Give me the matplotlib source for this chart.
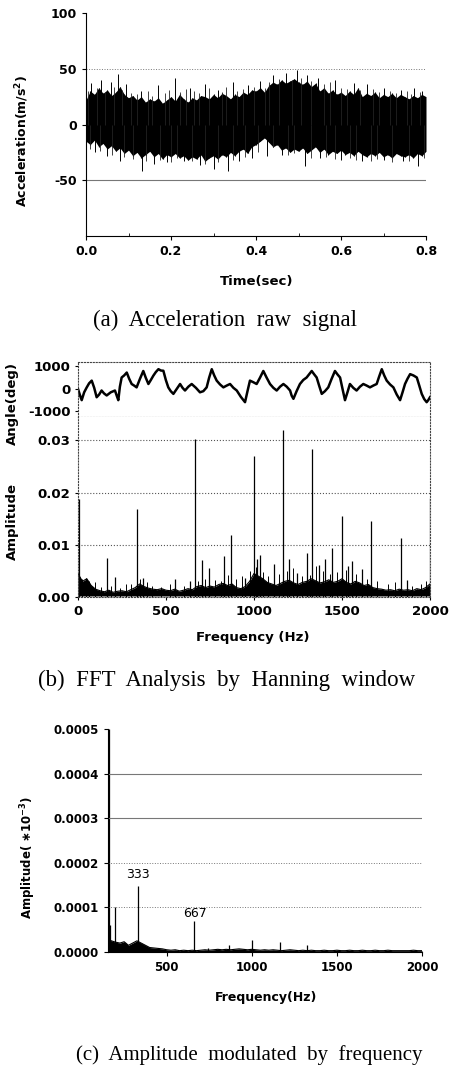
import matplotlib
matplotlib.use('Agg')
import matplotlib.pyplot as plt

# ---- (a) raw acceleration signal, envelope read every 0.01 s ----
time_a = [i * 0.01 for i in range(81)]
acc_upper = [22, 30, 27, 33, 28, 31, 26, 29, 34, 27, 24,
             26, 22, 25, 20, 23, 21, 24, 19, 22, 25,
             21, 27, 23, 20, 24, 22, 26, 25, 23, 27,
             24, 28, 26, 23, 27, 25, 29, 27, 31, 30,
             33, 29, 35, 38, 36, 40, 37, 39, 41, 38,
             36, 39, 34, 37, 30, 33, 28, 31, 27, 29,
             26, 30, 27, 33, 25, 28, 26, 29, 24, 27,
             25, 28, 24, 27, 25, 23, 26, 24, 27, 25]
acc_lower = [-15, -18, -14, -20, -17, -22, -19, -24, -21, -26, -23,
             -28, -25, -30, -27, -24, -29, -26, -31, -27, -29,
             -26, -30, -28, -32, -29, -31, -27, -33, -30, -28,
             -31, -27, -29, -25, -28, -24, -22, -26, -20, -18,
             -15, -12, -16, -20, -18, -23, -21, -25, -22, -24,
             -21, -26, -23, -20, -25, -22, -27, -24, -26, -23,
             -27, -25, -28, -24, -27, -29, -26, -28, -25, -29,
             -27, -30, -26, -28, -29, -27, -30, -26, -28, -24]
spike_up_t = [0.012, 0.035, 0.058, 0.076, 0.095, 0.13, 0.17, 0.209, 0.245, 0.28, 0.31, 0.345,
              0.38, 0.41, 0.44, 0.47, 0.496, 0.52, 0.545, 0.586, 0.63, 0.66, 0.70, 0.74, 0.772, 0.79]
spike_up_v = [37, 40, 38, 45, 36, 30, 35, 42, 33, 36, 31, 38,
              35, 39, 44, 46, 49, 44, 42, 40, 37, 36, 33, 31, 33, 30]
spike_dn_t = [0.02, 0.05, 0.08, 0.131, 0.16, 0.19, 0.23, 0.268, 0.30, 0.335, 0.36,
              0.39, 0.425, 0.46, 0.516, 0.55, 0.60, 0.65, 0.70, 0.745, 0.78]
spike_dn_v = [-25, -28, -33, -42, -35, -34, -33, -36, -40, -42, -33,
              -30, -28, -27, -37, -30, -32, -33, -32, -33, -37]
minor_up_t = [0.005, 0.025, 0.045, 0.066, 0.085, 0.105, 0.12, 0.145, 0.155, 0.185,
              0.195, 0.22, 0.235, 0.255, 0.265, 0.29, 0.32, 0.33, 0.355, 0.37,
              0.395, 0.42, 0.43, 0.455, 0.485, 0.505, 0.53, 0.56, 0.575, 0.6,
              0.615, 0.645, 0.675, 0.69, 0.715, 0.73, 0.755, 0.765, 0.785]
minor_up_v = [30, 33, 29, 34, 31, 28, 27, 30, 26, 28,
              31, 29, 32, 30, 28, 33, 29, 34, 30, 32,
              34, 33, 38, 41, 40, 42, 39, 36, 38, 33,
              32, 31, 32, 29, 30, 28, 30, 27, 29]
minor_dn_t = [0.01, 0.032, 0.062, 0.09, 0.11, 0.14, 0.175, 0.2, 0.215, 0.25,
              0.28, 0.31, 0.345, 0.375, 0.405, 0.44, 0.475, 0.49, 0.53, 0.565,
              0.585, 0.62, 0.635, 0.67, 0.685, 0.72, 0.76, 0.795]
minor_dn_v = [-22, -24, -27, -29, -31, -33, -32, -34, -30, -33,
              -35, -34, -32, -29, -25, -20, -27, -26, -30, -29,
              -31, -30, -32, -33, -31, -34, -33, -30]

# ---- (b) phase angle trace ----
ang_f = [0, 21, 49, 78, 106, 134, 163, 210, 229, 248, 277, 305, 333, 371, 400, 428, 457, 485,
         513, 542, 580, 608, 646, 693, 731, 760, 788, 826, 864, 902, 949, 977, 1015, 1053,
         1091, 1129, 1167, 1205, 1224, 1261, 1299, 1328, 1356, 1385, 1422, 1460, 1489, 1517,
         1545, 1583, 1621, 1659, 1697, 1726, 1754, 1792, 1830, 1858, 1887, 1925, 1953, 1981, 2000]
ang_v = [0, -500, 60, 370, -370, -70, -290, -70, -500, 510, 730, 220, 70, 800, 220, 590, 880, 810,
         70, -220, 220, -70, 220, -150, 70, 880, 370, 70, 220, -70, -590, 370, 220, 800,
         220, -70, 220, -70, -440, 220, 510, 800, 510, -220, 70, 800, 510, -500,
         220, -70, 220, 70, 220, 880, 370, 70, -500, 220, 660, 510, -220, -590, -370]
ang_mid_f = [10, 35, 63, 92, 120, 148, 186, 220, 238, 262,
             291, 319, 352, 385, 414, 442, 471, 499, 527, 561,
             594, 627, 670, 712, 745, 774, 807, 845, 883, 925,
             963, 996, 1034, 1072, 1110, 1148, 1186, 1214, 1242, 1280,
             1313, 1342, 1370, 1403, 1441, 1474, 1503, 1531, 1564, 1602,
             1640, 1678, 1711, 1740, 1773, 1811, 1844, 1872, 1906, 1939,
             1967, 1990]
ang_mid_v = [-250, -150, 250, 50, -250, -200, -150, -300, 100, 600,
             450, 150, 450, 500, 400, 750, 820, 400, -100, 0,
             50, 100, 50, -100, 500, 600, 200, 150, 50, -350,
             -100, 300, 500, 500, 50, 100, 100, -300, -100, 400,
             650, 650, 150, -100, 450, 650, 0, -150, 50, 100,
             150, 150, 550, 600, 200, -250, -150, 450, 600, 150,
             -450, -500]

# ---- (b) amplitude spectrum ----
noise_f = [i * 25 for i in range(81)]
noise_b = [0.0045, 0.0030, 0.0035, 0.0022, 0.0015, 0.0012, 0.0010, 0.0013, 0.0009, 0.0011,
           0.0012, 0.0010, 0.0014, 0.0018, 0.0025, 0.0020, 0.0017, 0.0015, 0.0014, 0.0016,
           0.0013, 0.0012, 0.0015, 0.0011, 0.0013, 0.0016, 0.0014, 0.0020, 0.0022, 0.0018,
           0.0021, 0.0019, 0.0024, 0.0026, 0.0022, 0.0025, 0.0018, 0.0016, 0.0020, 0.0030,
           0.0045, 0.0040, 0.0035, 0.0028, 0.0025, 0.0022, 0.0026, 0.0030, 0.0032, 0.0027,
           0.0024, 0.0028, 0.0030, 0.0035, 0.0031, 0.0027, 0.0029, 0.0033, 0.0028, 0.0030,
           0.0035, 0.0028, 0.0025, 0.0030, 0.0027, 0.0022, 0.0024, 0.0018, 0.0016, 0.0015,
           0.0013, 0.0014, 0.0012, 0.0015, 0.0013, 0.0014, 0.0012, 0.0016, 0.0014, 0.0018,
           0.0025]
peak_f = [6, 167, 208, 337, 371, 551, 636, 665, 703, 746, 831, 869, 949, 1000, 1015, 1034,
          1114, 1167, 1201, 1242, 1299, 1332, 1371, 1404, 1445, 1502, 1536, 1559, 1616,
          1666, 1836, 1871, 2000]
peak_a = [0.0187, 0.0075, 0.0038, 0.0168, 0.0037, 0.0035, 0.0030, 0.0303, 0.0070, 0.0056,
          0.0078, 0.0118, 0.0037, 0.0270, 0.0072, 0.0081, 0.0063, 0.0320, 0.0072, 0.0046,
          0.0085, 0.0283, 0.0062, 0.0073, 0.0094, 0.0155, 0.0059, 0.0069, 0.0053, 0.0146,
          0.0113, 0.0033, 0.0190]
small_f = [20, 45, 60, 95, 130, 190, 240, 270, 300, 355,
           390, 420, 470, 520, 600, 680, 720, 780, 810, 850,
           900, 930, 980, 1010, 1050, 1080, 1140, 1190, 1220, 1270,
           1320, 1350, 1390, 1430, 1470, 1520, 1580, 1640, 1700, 1760,
           1800, 1900, 1950, 1980]
small_a = [0.0035, 0.0037, 0.0030, 0.0028, 0.0020, 0.0022, 0.0018, 0.0025, 0.0024, 0.0035,
           0.0028, 0.0022, 0.0020, 0.0024, 0.0022, 0.0030, 0.0035, 0.0033, 0.0030, 0.0042,
           0.0035, 0.0040, 0.0050, 0.0058, 0.0048, 0.0040, 0.0045, 0.0050, 0.0055, 0.0040,
           0.0042, 0.0060, 0.0050, 0.0045, 0.0048, 0.0052, 0.0045, 0.0035, 0.0030, 0.0025,
           0.0028, 0.0022, 0.0025, 0.0030]

# ---- (c) amplitude modulated by frequency ----
noise_cf = [150 + i * 25 for i in range(75)]
noise_c = [3.0e-5, 2.5e-5, 2.2e-5, 2.0e-5, 2.3e-5, 1.5e-5, 2.0e-5, 2.5e-5, 2.0e-5, 1.5e-5,
           1.0e-5, 0.9e-5, 0.8e-5, 0.7e-5, 0.5e-5, 0.4e-5, 0.5e-5, 0.3e-5, 0.4e-5, 0.3e-5,
           0.4e-5, 0.3e-5, 0.4e-5, 0.5e-5, 0.4e-5, 0.5e-5, 0.6e-5, 0.5e-5, 0.6e-5, 0.5e-5,
           0.6e-5, 0.7e-5, 0.6e-5, 0.5e-5, 0.6e-5, 0.5e-5, 0.4e-5, 0.5e-5, 0.4e-5, 0.5e-5,
           0.4e-5, 0.3e-5, 0.4e-5, 0.5e-5, 0.4e-5, 0.3e-5, 0.4e-5, 0.3e-5, 0.4e-5, 0.3e-5,
           0.3e-5, 0.4e-5, 0.3e-5, 0.3e-5, 0.4e-5, 0.3e-5, 0.3e-5, 0.4e-5, 0.3e-5, 0.3e-5,
           0.4e-5, 0.3e-5, 0.3e-5, 0.4e-5, 0.3e-5, 0.3e-5, 0.4e-5, 0.3e-5, 0.3e-5, 0.3e-5,
           0.3e-5, 0.3e-5, 0.4e-5, 0.3e-5, 0.3e-5]
peak_cf = [158, 165, 196, 333, 663, 745, 865, 1000, 1163, 1325]
peak_ca = [5.0e-4, 6.0e-5, 1.0e-4, 1.49e-4, 6.9e-5, 0.9e-5, 1.5e-5, 2.8e-5, 2.2e-5, 1.6e-5]
label_c = ['333', '667']
label_cf = [333, 667]
label_cy = [1.73e-4, 0.87e-4]

plt.rcParams['font.family'] = ['DejaVu Sans']
plt.rcParams['font.weight'] = 'bold'
plt.rcParams['axes.labelweight'] = 'bold'
plt.rcParams['axes.unicode_minus'] = False
W, H = 449, 1069
fig = plt.figure(figsize=(W / 100, H / 100), dpi=100)


def box(l, t, r, b):
    return [l / W, 1 - b / H, (r - l) / W, (b - t) / H]


def caption(x, y, s, size):
    fig.text(x / W, 1 - y / H, s, family=['Liberation Serif'], fontsize=size,
             fontweight='normal', ha='center', va='center')


# (a)
ax = fig.add_axes(box(86, 13, 426, 236))
ax.fill_between(time_a, acc_lower, acc_upper, color='black', lw=0)
ax.vlines(time_a, acc_lower, acc_upper, color='black', lw=0.8)
ax.vlines(spike_up_t, 0, spike_up_v, color='black', lw=0.7)
ax.vlines(spike_dn_t, spike_dn_v, 0, color='black', lw=0.7)
ax.vlines(minor_up_t, 0, minor_up_v, color='#222222', lw=0.6)
ax.vlines(minor_dn_t, minor_dn_v, 0, color='#222222', lw=0.6)
ax.axhline(50, color='#777777', lw=0.7, ls=':')
ax.axhline(-50, color='#777777', lw=0.8)
ax.set_xlim(0, 0.8)
ax.set_ylim(-100, 100)
ax.set_yticks([-50, 0, 50, 100])
ax.set_xticks([0, 0.2, 0.4, 0.6, 0.8])
ax.set_xticklabels(['0.0', '0.2', '0.4', '0.6', '0.8'])
ax.set_xticks([0.1, 0.3, 0.5, 0.7], minor=True)
ax.tick_params(labelsize=9, length=3, width=0.8)
ax.tick_params(which='minor', direction='in', length=2)
ax.spines['top'].set_visible(False)
ax.spines['right'].set_visible(False)
ax.set_ylabel('Acceleration(m/s$^2$)', fontsize=9)
ax.yaxis.set_label_coords(-0.162, 0.426)
fig.text(257 / W, 1 - 281 / H, 'Time(sec)', fontsize=9.5, ha='center', va='center')
caption(225, 320, '(a)  Acceleration  raw  signal', 16.5)

# (b) angle
ang = sorted(zip(ang_f + ang_mid_f, ang_v + ang_mid_v))
ax1 = fig.add_axes(box(78, 362, 430, 417))
ax1.plot([p[0] for p in ang], [p[1] for p in ang], color='black', lw=1.8)
ax1.set_xlim(0, 2000)
ax1.set_ylim(-1250, 1200)
ax1.set_yticks([-1000, 0, 1000])
ax1.set_xticks([])
ax1.tick_params(labelsize=9.5, length=2)
for s in ax1.spines.values():
    s.set_linestyle(':')
    s.set_color('#444444')
ax1.set_ylabel('Angle(deg)', fontsize=9.5)
ax1.yaxis.set_label_coords(-0.168, 0.25)

# (b) amplitude
ax2 = fig.add_axes(box(78, 417, 430, 597))
ax2.fill_between(noise_f, 0.0002, noise_b, color='black', lw=0)
ax2.plot(noise_f, noise_b, color='black', lw=0.8)
ax2.vlines(small_f, 0, small_a, color='black', lw=0.7)
ax2.vlines(peak_f, 0, peak_a, color='black', lw=0.9)
ax2.set_xlim(0, 2000)
ax2.set_ylim(0, 0.0345)
ax2.set_yticks([0, 0.01, 0.02, 0.03])
ax2.set_yticklabels(['0.00', '0.01', '0.02', '0.03'])
ax2.set_xticks([0, 500, 1000, 1500, 2000])
ax2.grid(axis='y', ls=':', color='#555555', lw=0.8)
ax2.tick_params(labelsize=9.5, length=2)
for s in ax2.spines.values():
    s.set_linestyle(':')
    s.set_color('#444444')
ax2.spines['top'].set_visible(False)
ax2.set_ylabel('Amplitude', fontsize=9.5)
ax2.yaxis.set_label_coords(-0.168, 0.417)
fig.text(253 / W, 1 - 638 / H, 'Frequency (Hz)', fontsize=9.5, ha='center', va='center')
caption(227, 680, '(b)  FFT  Analysis  by  Hanning  window', 16.5)

# (c)
ax3 = fig.add_axes(box(108, 729, 422, 952))
ax3.fill_between(noise_cf, 0, noise_c, color='black', lw=0)
ax3.plot(noise_cf, noise_c, color='black', lw=0.8)
ax3.vlines(peak_cf, 0, peak_ca, color='black', lw=0.9)
for s, xf, yv in zip(label_c, label_cf, label_cy):
    ax3.text(xf, yv, s, fontsize=9, fontweight='normal', ha='center', va='center')
for yg in [0.0003, 0.0004]:
    ax3.axhline(yg, color='#777777', lw=0.8)
for yg in [0.0001, 0.0002]:
    ax3.axhline(yg, color='#777777', lw=0.7, ls=':')
ax3.set_xlim(155, 2000)
ax3.set_ylim(0, 0.0005)
ax3.set_yticks([0, 0.0001, 0.0002, 0.0003, 0.0004, 0.0005])
ax3.set_yticklabels(['0.0000', '0.0001', '0.0002', '0.0003', '0.0004', '0.0005'])
ax3.set_xticks([500, 1000, 1500, 2000])
ax3.tick_params(labelsize=8.5, length=3)
ax3.spines['top'].set_visible(False)
ax3.spines['right'].set_visible(False)
ax3.set_ylabel('Amplitude( $\\ast$10$^{-3}$)', fontsize=8.5)
ax3.yaxis.set_label_coords(-0.223, 0.426)
fig.text(266 / W, 1 - 998 / H, 'Frequency(Hz)', fontsize=9, ha='center', va='center')
caption(249, 1055, '(c)  Amplitude  modulated  by  frequency', 15)

fig.savefig('out.png', dpi=100)
